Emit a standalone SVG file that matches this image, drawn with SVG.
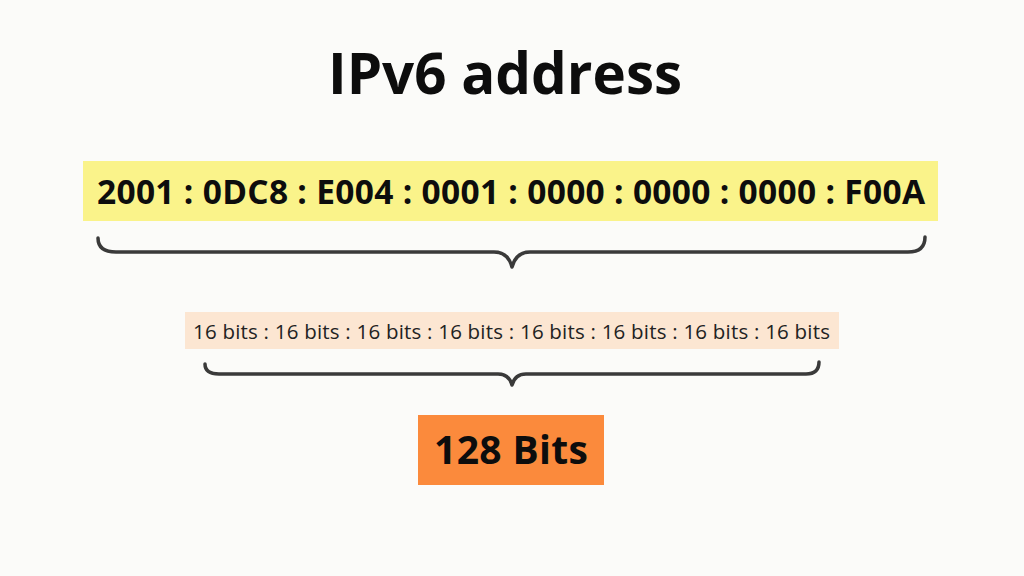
<svg xmlns="http://www.w3.org/2000/svg" width="1024" height="576" viewBox="0 0 1024 576">
<style>
.b{font-family:"Open Sans","Noto Sans","DejaVu Sans",sans-serif;font-weight:700;fill:#0d0d0d;text-anchor:middle}
.r{font-family:"Open Sans","Noto Sans","DejaVu Sans",sans-serif;font-weight:400;fill:#222;text-anchor:middle}
.brace{fill:none;stroke:#3a3a3a;stroke-width:3.5;stroke-linecap:round;stroke-linejoin:round}
</style>
<rect width="1024" height="576" fill="#fbfbf9"/>
<g id="title"><text class="b" x="505" y="94" font-size="56.5">IPv6 address</text></g>
<g id="address">
<rect x="83" y="161" width="855" height="60" fill="#faf38a"/>
<text class="b" x="511" y="204" font-size="33.5" textLength="828" lengthAdjust="spacing">2001 : 0DC8 : E004 : 0001 : 0000 : 0000 : 0000 : F00A</text>
</g>
<g id="bits">
<rect x="185" y="312" width="654" height="37" fill="#fce6d2"/>
<text class="r" x="511.5" y="339" font-size="20.5" textLength="637" lengthAdjust="spacing">16 bits : 16 bits : 16 bits : 16 bits : 16 bits : 16 bits : 16 bits : 16 bits</text>
</g>
<g id="total">
<rect x="418" y="415" width="186" height="70" fill="#fb8a3c"/>
<text class="b" x="511" y="464" font-size="39" textLength="154" lengthAdjust="spacing">128 Bits</text>
</g>
<g id="connectors">
<path class="brace" d="M98,238 Q98,252 116,252 L494,252 Q508,252 512,267 Q516,252 530,252 L908,252 Q925,252 925,237"/>
<path class="brace" d="M205,364 Q205,374 219,374 L498,374 Q509,374 512,385 Q515,374 526,374 L806,374 Q819,374 819,362"/>
</g>
</svg>
